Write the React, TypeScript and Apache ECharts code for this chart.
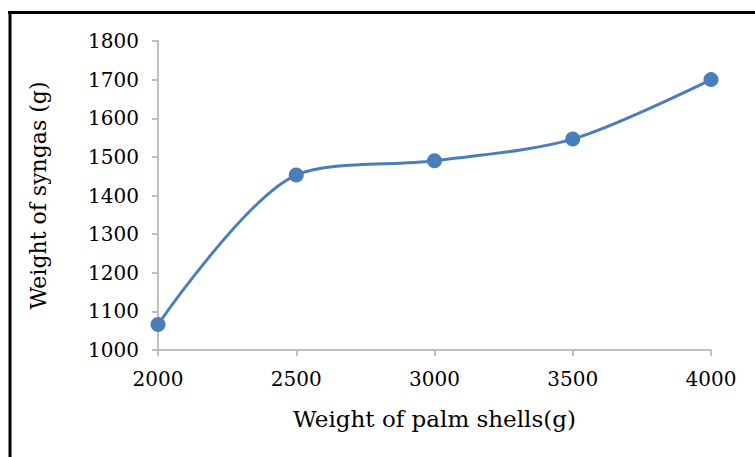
import React, { useEffect, useRef } from "react";
import * as echarts from "echarts";

const shells = [2000, 2500, 3000, 3500, 4000];
const syngas = [1066, 1453, 1490, 1546, 1700];
const xTitle = "Weight of palm shells(g)";
const yTitle = "Weight of syngas (g)";

export default function App() {
  const ref = useRef<HTMLDivElement>(null);
  useEffect(() => {
    if (!ref.current) return;
    const chart = echarts.init(ref.current, undefined, { renderer: "svg" });
    const font = "DejaVu Serif";
    const axisLine = { show: true, lineStyle: { color: "#bfbfbf", width: 2 } };
    const fmt = (v: number) => String(v);
    chart.setOption({
      animation: false,
      backgroundColor: "#ffffff",
      grid: { left: 158, right: 44, top: 41, bottom: 107 },
      xAxis: {
        type: "value",
        min: 2000,
        max: 4000,
        interval: 500,
        name: xTitle,
        nameLocation: "middle",
        nameGap: 57,
        nameTextStyle: { fontFamily: font, fontSize: 23, color: "#000" },
        axisLine,
        axisTick: { show: true, length: 6, lineStyle: { color: "#bfbfbf", width: 2 } },
        splitLine: { show: false },
        axisLabel: { fontFamily: font, fontSize: 20, color: "#000", margin: 19, formatter: fmt },
      },
      yAxis: {
        type: "value",
        min: 1000,
        max: 1800,
        interval: 100,
        name: yTitle,
        nameLocation: "middle",
        nameGap: 109,
        nameTextStyle: { fontFamily: font, fontSize: 22, color: "#000" },
        axisLine,
        axisTick: { show: true, length: 6, lineStyle: { color: "#bfbfbf", width: 2 } },
        splitLine: { show: false },
        axisLabel: { fontFamily: font, fontSize: 20, color: "#000", margin: 19, formatter: fmt },
      },
      series: [
        {
          type: "line",
          data: shells.map((x, i) => [x, syngas[i]]),
          smooth: 0.3,
          symbol: "circle",
          symbolSize: 15,
          lineStyle: { color: "#4a7ebb", width: 3 },
          itemStyle: { color: "#4a7ebb" },
        },
      ],
      graphic: [
        { type: "line", shape: { x1: 8, y1: 12.5, x2: 755, y2: 12.5 }, style: { stroke: "#000", lineWidth: 3 } },
        { type: "line", shape: { x1: 10, y1: 11, x2: 10, y2: 457 }, style: { stroke: "#000", lineWidth: 3 } },
      ],
    });
    return () => chart.dispose();
  }, []);
  return (
    <div
      ref={ref}
      style={{ position: "fixed", left: 0, top: 0, width: 755, height: 457 }}
    />
  );
}
